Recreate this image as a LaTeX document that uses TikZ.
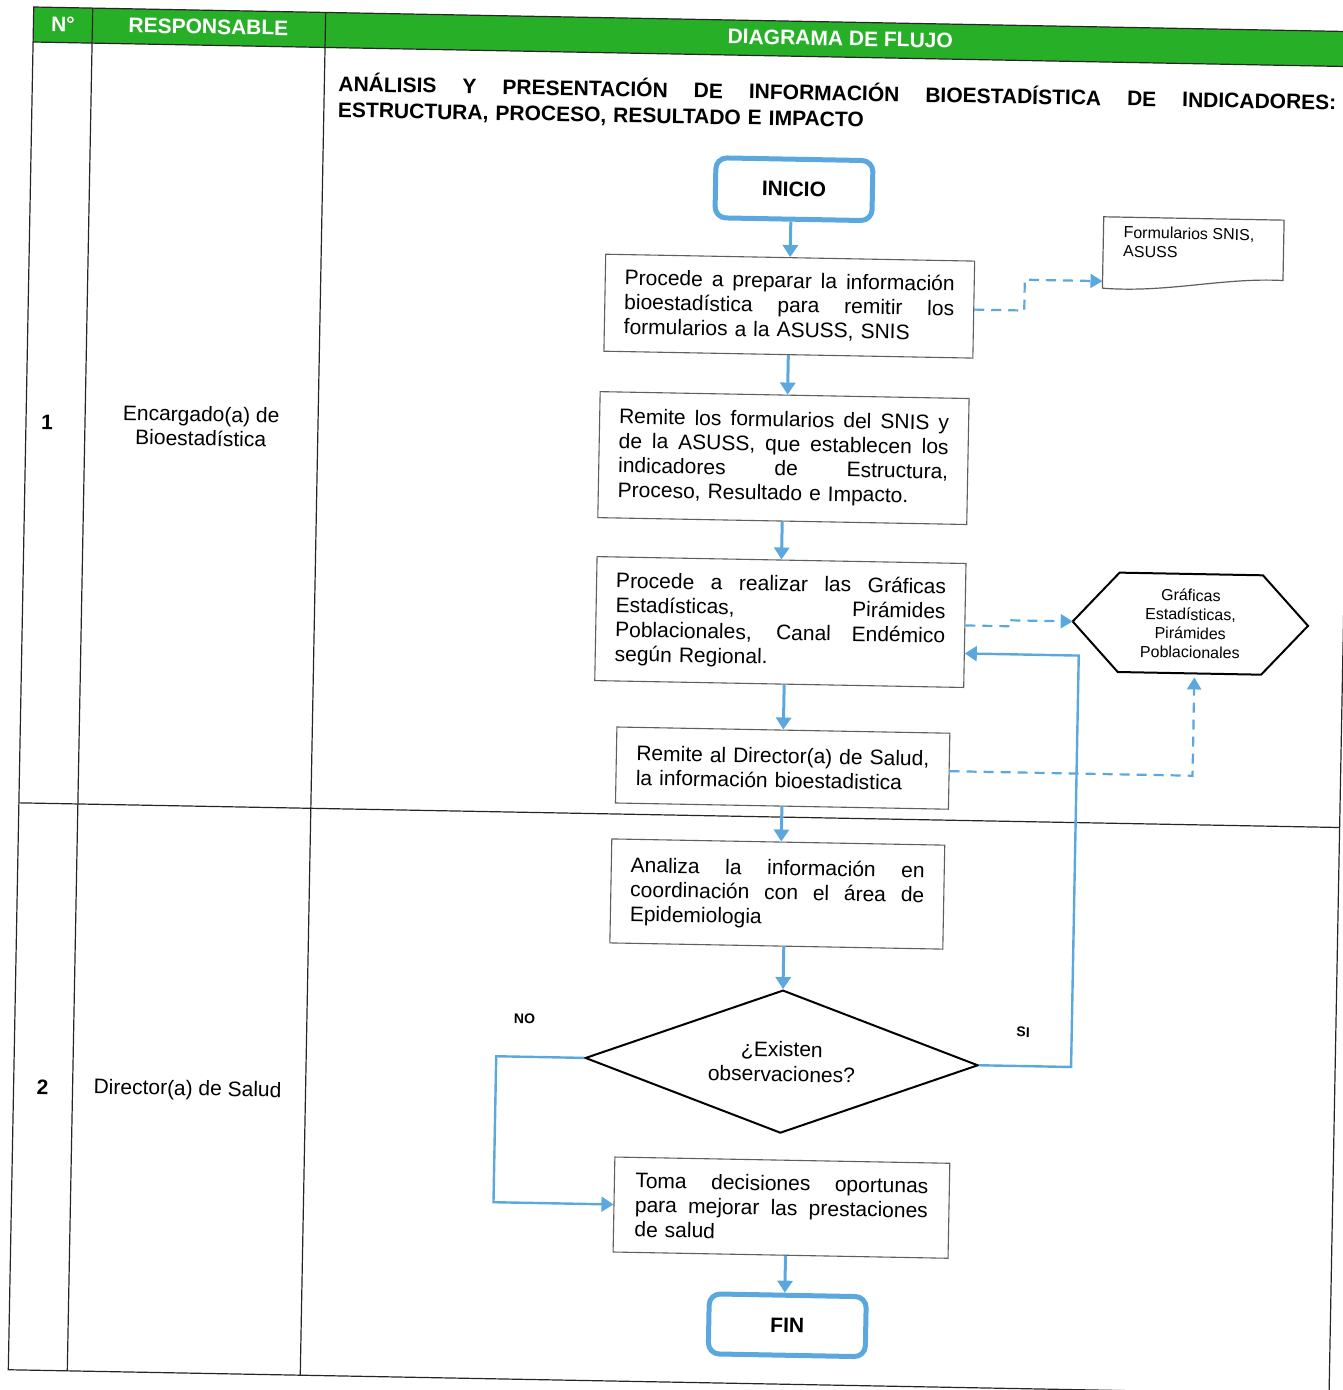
\documentclass[tikz,border=0pt]{standalone}
\usepackage{fontspec}
\setmainfont{Liberation Sans}
\usetikzlibrary{arrows.meta,shapes.geometric,calc}
\definecolor{hdrgreen}{RGB}{40,175,40}
\definecolor{flowblue}{RGB}{91,168,222}
\definecolor{boxgray}{RGB}{95,95,95}
\newlength\jw
\newcommand\jl[1]{\makebox[\jw][s]{\spaceskip=0pt\xspaceskip=0pt #1}\\}
\begin{document}
\begin{tikzpicture}[x=1pt,y=-1pt,
  tbl/.style={draw=black!85, line width=1.2pt},
  hdrtext/.style={text=white, font=\bfseries\fontsize{21}{24}\selectfont, inner sep=0pt},
  resptext/.style={align=center, font=\fontsize{21}{24}\selectfont, inner sep=0pt},
  procbox/.style={draw=boxgray, line width=1.1pt, fill=white, align=left, inner sep=0pt, font=\fontsize{21}{24.5}\selectfont},
  termbox/.style={draw=flowblue, line width=5pt, rounded corners=11pt, fill=white, minimum width=157pt, minimum height=60pt, inner sep=0pt, font=\bfseries\fontsize{21}{24}\selectfont},
  decbox/.style={diamond, aspect=2.75, draw=black, line width=2pt, minimum width=393pt, minimum height=143pt, inner sep=0pt, align=center, font=\fontsize{21}{25}\selectfont},
  flowarr/.style={draw=flowblue, line width=3pt, -{Triangle[width=15pt,length=12pt]}},
  yesno/.style={draw=flowblue, line width=2.4pt, -{Triangle[width=15pt,length=12pt]}},
  dasharr/.style={draw=flowblue, line width=2.2pt, dash pattern=on 10pt off 7pt, -{Triangle[width=14pt,length=12pt]}},
  smalltext/.style={font=\fontsize{16}{19}\selectfont, inner sep=0pt},
  lbl/.style={font=\bfseries\fontsize{14}{16}\selectfont, inner sep=0pt}
]
\fill[white] (0,0) rectangle (1342,1390);
\useasboundingbox (0,0) rectangle (1342,1390);
\begin{scope}[rotate around={-1.07:(671,695)}, transform shape]
% table
\fill[hdrgreen] (21,19) rectangle (1342,54);
\draw[tbl] (21,19) rectangle (1342,1382);
\draw[tbl] (21,54) -- (1342,54);
\draw[tbl] (21,815) -- (1342,815);
\draw[tbl] (80,19) -- (80,1382);
\draw[tbl] (313,19) -- (313,1382);
\node[hdrtext] (hN) at (50.5,35.5) {N°};
\node[hdrtext] (hR) at (196,35.5) {RESPONSABLE};
\node[hdrtext] (hD) at (828,35.5) {DIAGRAMA DE FLUJO};
% responsables
\node[resptext] (n1) at (42,434) {\bfseries 1};
\node[resptext] (r1) at (196,435) {Encargado(a) de\\Bioestadística};
\node[resptext] (n2) at (50,1099) {\bfseries 2};
\node[resptext] (r2) at (195,1099) {Director(a) de Salud};
% title
\node[anchor=base west, text width=998pt, align=left, inner sep=0pt, font=\bfseries\fontsize{21}{26}\selectfont] (title) at (327,97.5)
  {\setlength\jw{998pt}\jl{ANÁLISIS Y PRESENTACIÓN DE INFORMACIÓN BIOESTADÍSTICA DE INDICADORES:}ESTRUCTURA, PROCESO, RESULTADO E IMPACTO};
% flow nodes
\node[termbox] (inicio) at (784.5,187) {INICIO};
\node[procbox, minimum width=369pt, minimum height=97pt, text width=330pt] (b1) at (782,304)
  {\setlength\jw{330pt}\jl{Procede a preparar la información}\jl{bioestadística para remitir los}formularios a la ASUSS, SNIS};
\node[procbox, minimum width=369pt, minimum height=126pt, text width=330pt] (b2) at (779,456)
  {\setlength\jw{330pt}\jl{Remite los formularios del SNIS y}\jl{de la ASUSS, que establecen los}\jl{indicadores de Estructura,}Proceso, Resultado e Impacto.};
\node[procbox, minimum width=369pt, minimum height=124pt, text width=330pt] (b3) at (779,620)
  {\setlength\jw{330pt}\jl{Procede a realizar las Gráficas}\jl{Estadísticas, Pirámides}\jl{Poblacionales, Canal Endémico}según Regional.};
\node[procbox, minimum width=333pt, minimum height=76pt, text width=293pt] (b4) at (784,766)
  {Remite al Director(a) de Salud,\\la información bioestadistica};
\node[procbox, minimum width=333pt, minimum height=104pt, text width=294pt] (b5) at (781,892)
  {\setlength\jw{294pt}\jl{Analiza la información en}\jl{coordinación con el área de}Epidemiologia};
\node[decbox] (dec) at (788.5,1059.5) {¿Existen\\observaciones?};
\node[procbox, minimum width=335pt, minimum height=95pt, text width=293pt] (b6) at (791,1205.5)
  {\setlength\jw{293pt}\jl{Toma decisiones oportunas}\jl{para mejorar las prestaciones}de salud};
\node[termbox] (fin) at (799,1323) {FIN};
% document shape
\node[minimum width=180pt, minimum height=71pt, inner sep=0pt] (doc) at (1185,244.5) {};
\draw[boxgray, line width=1.2pt] (doc.south west) -- (doc.north west) -- (doc.north east) -- ($(doc.south east)+(0,-11)$)
  .. controls (1215,267) and (1160,284) .. (doc.south west);
\node[smalltext, anchor=north west, align=left] (doctext) at ($(doc.north west)+(20,9)$) {Formularios SNIS,\\ASUSS};
% hexagon
\node[smalltext, minimum width=235pt, minimum height=99pt, align=center] (hex) at (1189,614)
  {Gráficas\\Estadísticas,\\Pirámides\\Poblacionales};
\draw[black, line width=2pt] (hex.west) -- ($(hex.north west)+(46,0)$) -- ($(hex.north east)+(-46,0)$) -- (hex.east)
  -- ($(hex.south east)+(-46,0)$) -- ($(hex.south west)+(46,0)$) -- cycle;
% main arrows
\draw[flowarr] (b1.north |- inicio.south) -- (b1.north);
\draw[flowarr] (b1.south) -- (b1.south |- b2.north);
\draw[flowarr] (b2.south) -- (b2.south |- b3.north);
\draw[flowarr] (b4.north |- b3.south) -- (b4.north);
\draw[flowarr] (b4.south) -- (b4.south |- b5.north);
\draw[flowarr] (dec.north |- b5.south) -- (dec.north);
\draw[flowarr] ($(fin.north |- b6.south)+(-3,0)$) -- ($(fin.north)+(-3,0)$);
% decision branches
\coordinate (siturn) at (1078,648);
\draw[yesno] (dec.east) -| (siturn) -- (siturn -| b3.east);
\coordinate (noturn) at (503,1205.5);
\draw[yesno] (dec.west) -| (noturn) -- (b6.west);
\node[lbl] (no) at (530.6,1021.7) {NO};
\node[lbl] (si) at (1029.4,1025.5) {SI};
% dashed connectors
\coordinate (docin) at ($(doc.south west)+(0,-7)$);
\draw[dasharr] (b1.east) -- ++(50,0) |- (docin);
\draw[dasharr] (b3.east) -- ++(45,0) |- (hex.west);
\draw[dasharr, shorten >=4pt] (b4.east) -| ($(hex.south)+(5,0)$);
\end{scope}
\end{tikzpicture}
\end{document}
